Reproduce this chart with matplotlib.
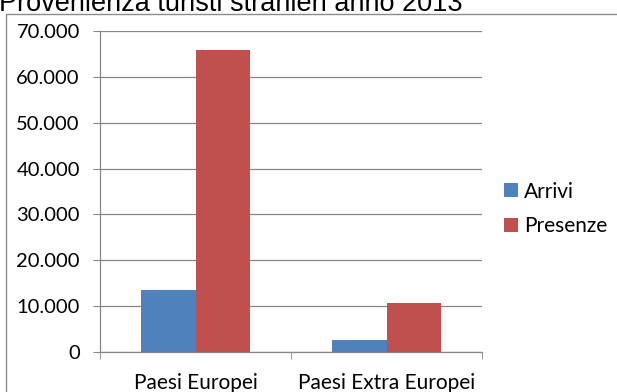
import matplotlib
matplotlib.use("Agg")
import matplotlib.pyplot as plt
from matplotlib.patches import Rectangle, Patch
from matplotlib.ticker import FuncFormatter
import numpy as np

title = "Provenienza turisti stranieri anno 2013"
categories = ["Paesi Europei", "Paesi Extra Europei"]
series_names = ["Arrivi", "Presenze"]
arrivi = [13500, 2600]
presenze = [65800, 10600]
colors = ["#4F81BD", "#C0504D"]

W, H = 617, 392
fig = plt.figure(figsize=(W / 100, H / 100), dpi=100)
fig.patch.set_facecolor("white")

# outer chart frame
fig.patches.append(Rectangle((6 / W, -0.05), 1.0, (H - 14) / H + 0.05,
                             transform=fig.transFigure, fill=False,
                             edgecolor="#8c8c8c", linewidth=1.0))

fig.text(-0.002, (H - 11) / H, title, fontsize=19.5, family="Liberation Sans",
         color="black", ha="left", va="baseline")

left, right, top, bottom = 100, 482, 31, 352
ax = fig.add_axes([left / W, (H - bottom) / H, (right - left) / W, (bottom - top) / H])

x = np.arange(len(categories))
bw = 0.283
ax.bar(x - bw / 2, arrivi, bw, color=colors[0], label=series_names[0], zorder=3)
ax.bar(x + bw / 2, presenze, bw, color=colors[1], label=series_names[1], zorder=3)

ax.set_xlim(-0.5, len(categories) - 0.5)
ax.set_ylim(0, 70000)
ax.set_yticks(np.arange(0, 70001, 10000))
ax.yaxis.set_major_formatter(FuncFormatter(lambda v, p: f"{int(v):,}".replace(",", ".")))
ax.grid(axis="y", color="#868686", linewidth=0.9, zorder=0)

ax.set_xticks(x)
ax.set_xticklabels(categories)
ax.set_xticks(np.arange(-0.5, len(categories), 1.0), minor=True)
ax.tick_params(axis="x", which="major", length=0, pad=15)
ax.tick_params(axis="x", which="minor", length=5, color="#868686", direction="out")
ax.tick_params(axis="y", length=5, color="#868686", direction="out", pad=9.5)

for lab in ax.get_xticklabels():
    lab.set_fontfamily("Lato")
    lab.set_fontsize(15)
    lab.set_color("black")
for lab in ax.get_yticklabels():
    lab.set_fontfamily("Lato")
    lab.set_fontsize(14.5)
    lab.set_color("black")

for s in ["top", "right"]:
    ax.spines[s].set_visible(False)
for s in ["left", "bottom"]:
    ax.spines[s].set_color("#868686")
    ax.spines[s].set_linewidth(0.9)

handles = [Patch(facecolor=c, label=n) for c, n in zip(colors, series_names)]
fig.legend(handles=handles, loc="center left", bbox_to_anchor=(485 / W, (H - 209) / H),
           frameon=False, prop={"family": "Lato", "size": 15},
           handlelength=0.67, handleheight=0.63, handletextpad=0.3, labelspacing=0.72)

fig.savefig("out.png", dpi=100)
